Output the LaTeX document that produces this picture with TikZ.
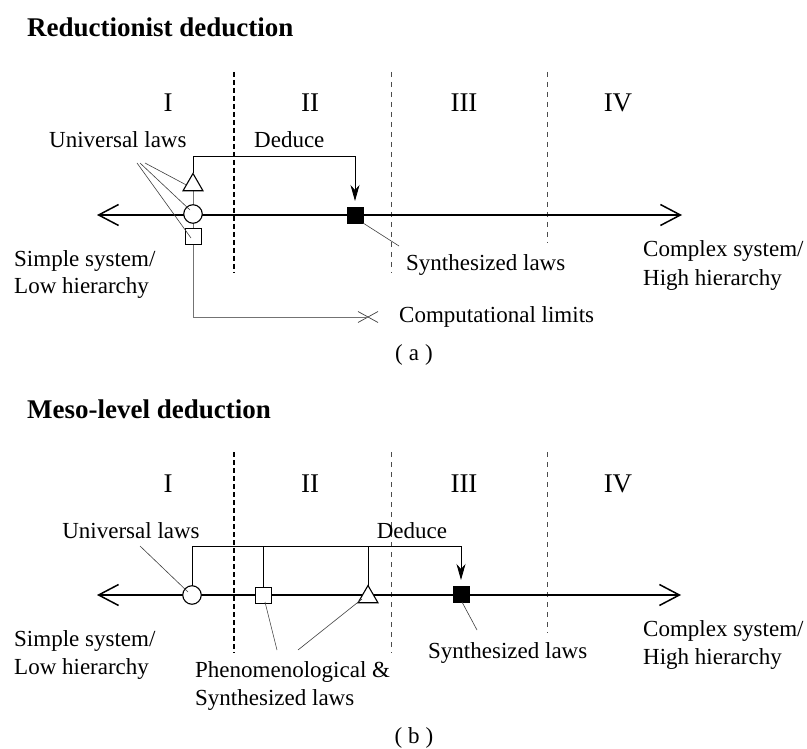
\documentclass[tikz,border=0pt]{standalone}
\usepackage{fontspec}
\setmainfont{Liberation Serif}
\usetikzlibrary{arrows.meta,shapes.geometric,shapes.misc,calc}
\begin{document}
\begin{tikzpicture}[x=1pt,y=-1pt,
  lbl/.style={font=\fontsize{23}{28}\selectfont, inner sep=0pt, anchor=base west},
  clbl/.style={font=\fontsize{23}{28}\selectfont, inner sep=0pt, anchor=base},
  num/.style={font=\fontsize{27}{32}\selectfont, inner sep=0pt, anchor=base},
  ttl/.style={font=\fontsize{27}{32}\selectfont\bfseries, inner sep=0pt, anchor=base west},
  axis/.style={line width=1.5pt, {Straight Barb[length=20pt,width=21pt]}-{Straight Barb[length=20pt,width=21pt]}},
  boldsep/.style={line width=1.3pt, dash pattern=on 5pt off 3pt},
  thinsep/.style={line width=0.8pt, black!70, dash pattern=on 5pt off 5pt},
  circ/.style={circle, draw, line width=1.1pt, fill=white, minimum size=18.5pt, inner sep=0pt, outer sep=0pt},
  osq/.style={rectangle, draw, line width=1pt, fill=white, minimum size=16pt, inner sep=0pt, outer sep=0pt},
  fsq/.style={rectangle, draw, fill=black, minimum size=16pt, inner sep=0pt, outer sep=0pt},
  tri/.style={regular polygon, regular polygon sides=3, draw, line width=1.1pt, fill=white, minimum size=23pt, inner sep=0pt, outer sep=0pt},
  brk/.style={line width=0.8pt},
  ded/.style={brk, -{Stealth[length=16pt,width=9pt,inset=5pt]}, shorten >=6pt},
  lead/.style={line width=0.6pt, black!75},
  limit/.style={line width=0.8pt, black!55},
  xmark/.style={cross out, draw, line width=0.7pt, black!75, minimum width=20pt, minimum height=11pt, inner sep=0pt, outer sep=0pt},
]
\fill[white] (0,0) rectangle (807,749);

% ================= panel (a) =================
\node[ttl] (tta) at (27,37) {Reductionist deduction};
\node[num] (na1) at (168,112) {I};
\node[num] (na2) at (310,112) {II};
\node[num] (na3) at (464,112) {III};
\node[num] (na4) at (618,112) {IV};

\coordinate (da1t) at (234,72);  \coordinate (da1b) at (234,273);
\coordinate (da2t) at (391,72);  \coordinate (da2b) at (391,273);
\coordinate (da3t) at (547,72);  \coordinate (da3b) at (547,243);
\draw[boldsep] (da1t) -- (da1b);
\draw[thinsep] (da2t) -- (da2b);
\draw[thinsep] (da3t) -- (da3b);

\coordinate (aL) at (97,215); \coordinate (aR) at (682,215);
\draw[axis] (aL) -- (aR);

\coordinate (pt1) at (193,185); \coordinate (ps1) at (193,237);
\draw[limit] (pt1) -- (ps1);
\node[tri] (t1) at (pt1) {};
\node[circ] (c1) at (193,214) {};
\node[osq] (s1) at (ps1) {};
\node[fsq] (f1) at (355,215) {};

\coordinate (k1a) at (193,156); \coordinate (k1b) at (355,156);
\draw[ded] (t1.north) -- (k1a) -- (k1b) -- (f1.north);

\node[xmark] (xm) at (368,317) {};
\draw[limit] (s1.south) |- (xm.center);

\node[lbl] (ua) at (49,148) {Universal laws};
\node[lbl] (dda) at (254,148) {Deduce};
\node[lbl] (ssa1) at (14,266) {Simple system/};
\node[lbl] (ssa2) at (14,294) {Low hierarchy};
\node[lbl] (csa1) at (643,257) {Complex system/};
\node[lbl] (csa2) at (643,285) {High hierarchy};
\node[lbl] (sya) at (406,270) {Synthesized laws};
\node[lbl] (cla) at (399,323) {Computational limits};
\node[clbl] (capa) at (414,360) {(\kern6pt a\kern6pt)};

\coordinate (ul1) at (145,163); \coordinate (ul2) at (140,163); \coordinate (ul3) at (137,163);
\draw[lead] (ul1) -- (t1.west);
\draw[lead] (ul2) -- ($(c1.center)+(-3,-4)$);
\draw[lead] (ul3) -- ($(s1.center)+(-2,1)$);
\coordinate (sla) at (399,246);
\draw[lead] (f1.south east) -- (sla);

% ================= panel (b) =================
\node[ttl] (ttb) at (27,418) {Meso-level deduction};
\node[num] (nb1) at (168,492) {I};
\node[num] (nb2) at (310,492) {II};
\node[num] (nb3) at (464,492) {III};
\node[num] (nb4) at (618,492) {IV};

\coordinate (db1t) at (234,452);  \coordinate (db1b) at (234,653);
\coordinate (db2t) at (391,452);  \coordinate (db2b) at (391,653);
\coordinate (db3t) at (547,452);  \coordinate (db3b) at (547,633);
\draw[boldsep] (db1t) -- (db1b);
\draw[thinsep] (db2t) -- (db2b);
\draw[thinsep] (db3t) -- (db3b);

\coordinate (bL) at (97,595); \coordinate (bR) at (681,595);
\draw[axis] (bL) -- (bR);

\node[circ] (c2) at (192,595) {};
\node[osq] (s2) at (263,595) {};
\node[tri] (t2) at (368,597) {};
\node[fsq] (f2) at (461,594) {};

\coordinate (k2a) at (192,546); \coordinate (k2b) at (461,546);
\coordinate (k2s) at (263,546); \coordinate (k2t) at (368,546);
\draw[ded] (c2.north) -- (k2a) -- (k2b) -- (f2.north);
\draw[brk] (s2.north) -- (k2s);
\draw[brk] (t2.north) -- (k2t);

\node[clbl] (ub) at (131,538) {Universal laws};
\node[clbl] (ddb) at (412,538) {Deduce};
\node[lbl] (ssb1) at (14,646) {Simple system/};
\node[lbl] (ssb2) at (14,674) {Low hierarchy};
\node[lbl] (csb1) at (643,636) {Complex system/};
\node[lbl] (csb2) at (643,664) {High hierarchy};
\node[lbl] (syb) at (428,658) {Synthesized laws};
\node[lbl] (phb1) at (195,677) {Phenomenological \&};
\node[lbl] (phb2) at (195,705) {Synthesized laws};
\node[clbl] (capb) at (414,743) {(\kern6pt b\kern6pt)};

\coordinate (ulb) at (140,546);
\draw[lead] (ulb) -- ($(c2.center)+(-4,-3)$);
\coordinate (ph1) at (277,650); \coordinate (ph2) at (298,650);
\draw[lead] (ph1) -- ($(s2.south)+(2,-1)$);
\draw[lead] (ph2) -- ($(t2.center)+(-6,2)$);
\coordinate (slb) at (477,630);
\draw[lead] ($(f2.south)+(1,0)$) -- (slb);
\end{tikzpicture}
\end{document}
